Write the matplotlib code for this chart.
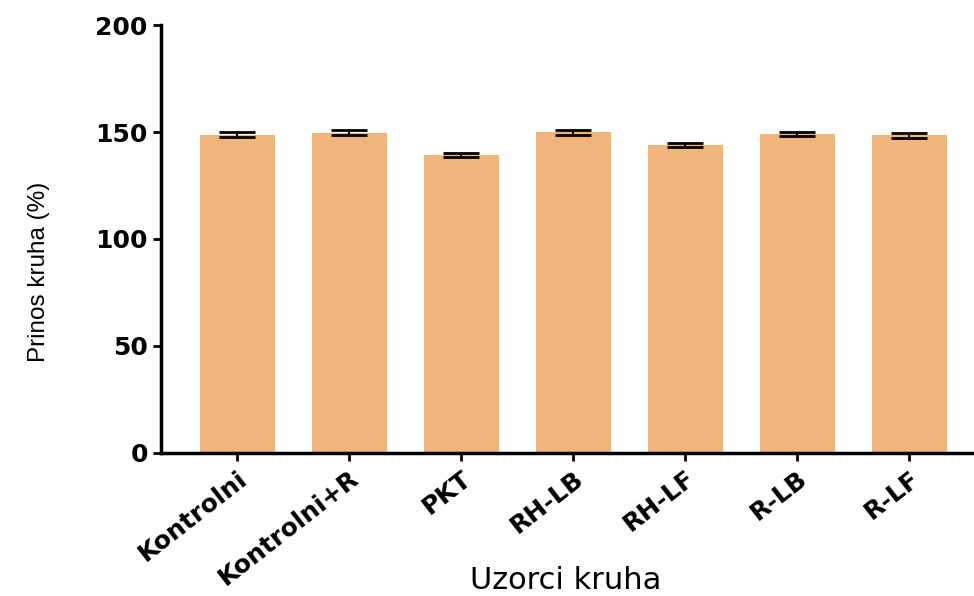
import matplotlib
matplotlib.use('Agg')
import matplotlib.pyplot as plt
import numpy as np

# podaci
uzorci = ['Kontrolni', 'Kontrolni+R', 'PKT', 'RH-LB', 'RH-LF', 'R-LB', 'R-LF']
prinos = [148.7, 149.6, 139.3, 149.8, 143.9, 149.1, 148.5]
sd = [1.2, 1.2, 0.8, 1.2, 0.85, 0.8, 1.1]

bar_color = '#F0B57D'

fig = plt.figure(figsize=(9.74, 5.96), dpi=100)
ax = fig.add_axes([0.1653, 0.24, 0.8347, 0.718])

x = np.arange(len(uzorci))
ax.bar(x, prinos, width=0.67, color=bar_color, zorder=1)
ax.errorbar(x, prinos, yerr=sd, fmt='none', ecolor='black', elinewidth=1.5,
            capsize=13, capthick=2, zorder=2)

ax.set_xlim(-0.68, 6.58)
ax.set_ylim(0, 200)
ax.set_yticks([0, 50, 100, 150, 200])
ax.set_xticks(x)
ax.set_xticklabels(uzorci, rotation=38, ha='right', rotation_mode='anchor',
                   fontsize=18, fontweight='bold', family='DejaVu Sans')
for lab in ax.get_yticklabels():
    lab.set_fontsize(18)
    lab.set_fontweight('bold')
    lab.set_family('DejaVu Sans')

ax.spines['top'].set_visible(False)
ax.spines['right'].set_visible(False)
ax.spines['left'].set_linewidth(2.5)
ax.spines['bottom'].set_linewidth(2.5)
ax.tick_params(axis='both', direction='out', length=6, width=2, pad=3.5)

ax.set_ylabel('Prinos kruha (%)', fontsize=17.5, family='Liberation Sans')
ax.yaxis.set_label_coords(-0.137, 0.423)
ax.set_xlabel('Uzorci kruha', fontsize=22, family='DejaVu Sans')
ax.xaxis.set_label_coords(0.498, -0.265)

fig.savefig('out.png', dpi=100)
